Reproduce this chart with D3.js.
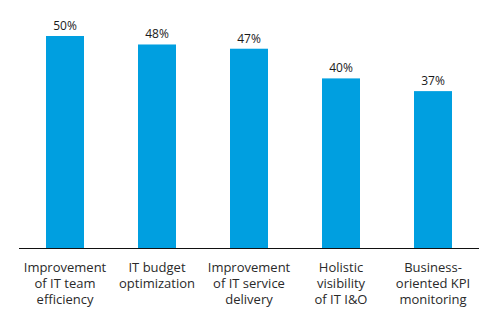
<!DOCTYPE html>
<html>
<head>
<meta charset="utf-8">
<script src="https://cdn.jsdelivr.net/npm/d3@7"></script>
<style>
  html, body { margin: 0; padding: 0; background: #fff; }
  svg { display: block; }
</style>
</head>
<body>
<svg id="main-svg"></svg>
<script>
// survey categories (multi-line labels) and their shares in percent
const categories = [
    ["Improvement", "of IT team", "efficiency"],
    ["IT budget", "optimization"],
    ["Improvement", "of IT service", "delivery"],
    ["Holistic", "visibility", "of IT I&O"],
    ["Business-", "oriented KPI", "monitoring"]
];
const values = [50, 48, 47, 40, 37];

const width = 502;
const height = 332;
const barColor = "#009fe0";
const fontFamily = "'Open Sans', 'Noto Sans', sans-serif";

var svg = d3.select("#main-svg")
    .attr("width", width)
    .attr("height", height);

var keys = categories.map((c, i) => i);

var xScale = d3.scaleBand()
    .domain(keys)
    .range([19, 479])
    .paddingInner(0.587)
    .paddingOuter(0.2935);

var yScale = d3.scaleLinear()
    .domain([0, 50])
    .range([248, 36]);

// bars
svg.selectAll(".bar")
    .data(values)
    .enter()
    .append("rect")
    .attr("class", "bar")
    .attr("x", (d, i) => xScale(i))
    .attr("y", d => yScale(d))
    .attr("width", xScale.bandwidth())
    .attr("height", d => yScale(0) - yScale(d))
    .attr("fill", barColor);

// value labels above each bar
svg.selectAll(".value-label")
    .data(values)
    .enter()
    .append("text")
    .attr("class", "value-label")
    .attr("x", (d, i) => xScale(i) + xScale.bandwidth() / 2)
    .attr("y", d => yScale(d) - 6)
    .attr("text-anchor", "middle")
    .attr("font-family", fontFamily)
    .attr("font-size", "12px")
    .attr("fill", "#1a1a1a")
    .text(d => d + "%");

// baseline
svg.append("line")
    .attr("x1", 19)
    .attr("x2", 479)
    .attr("y1", yScale(0) + 0.5)
    .attr("y2", yScale(0) + 0.5)
    .attr("stroke", "#111")
    .attr("stroke-width", 1);

// category labels under the axis
var catGroups = svg.selectAll(".cat-label")
    .data(categories)
    .enter()
    .append("text")
    .attr("class", "cat-label")
    .attr("text-anchor", "middle")
    .attr("font-family", fontFamily)
    .attr("font-size", "13px")
    .attr("fill", "#2a2a2a");

catGroups.selectAll("tspan")
    .data((d, i) => d.map(line => ({ line, i })))
    .enter()
    .append("tspan")
    .attr("x", d => xScale(d.i) + xScale.bandwidth() / 2)
    .attr("y", (d, j) => 272 + j * 16)
    .text(d => d.line);
</script>
</body>
</html>
